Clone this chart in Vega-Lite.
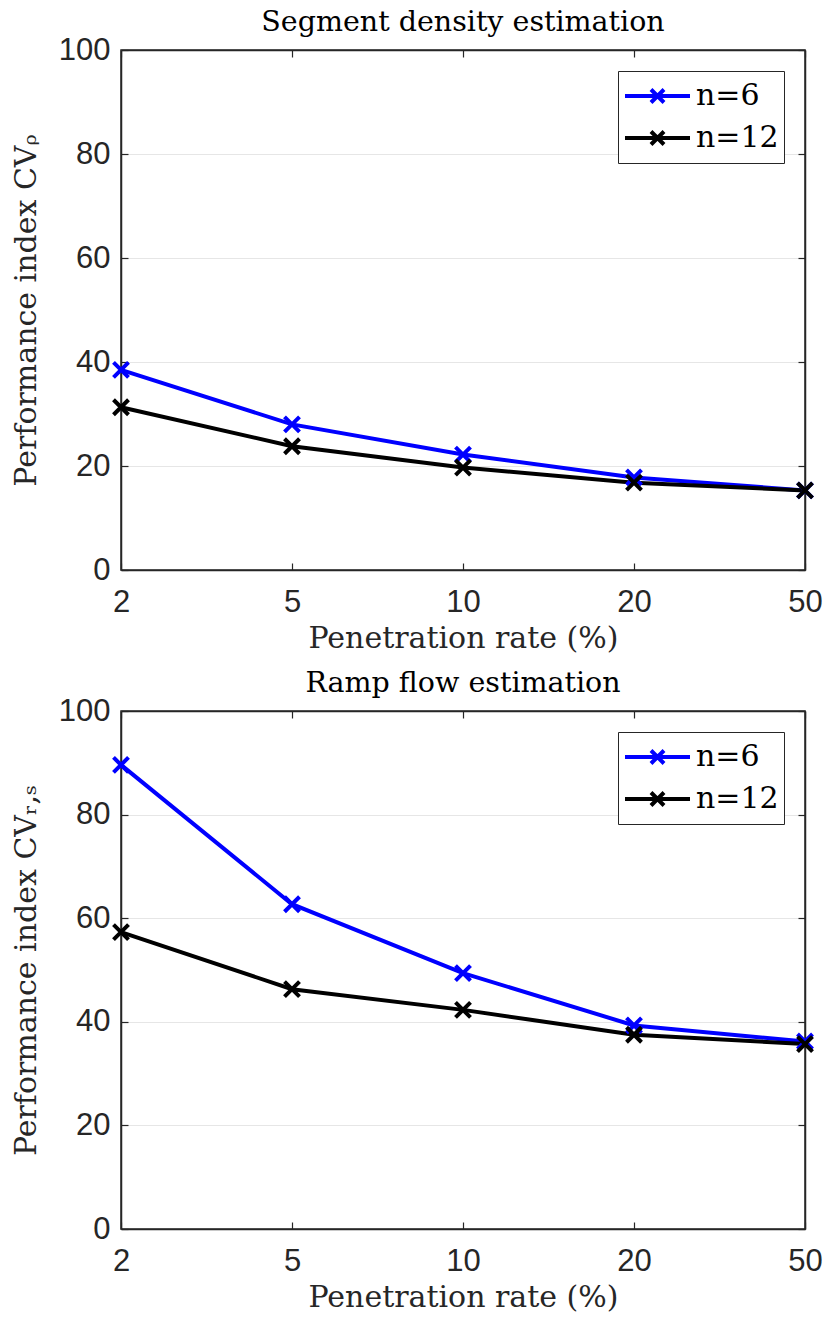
{
  "$schema": "https://vega.github.io/schema/vega-lite/v6.json",
  "background": "white",
  "padding": {"left": 10, "top": 6, "right": 4, "bottom": 4},
  "spacing": 13,
  "resolve": {"scale": {"color": "independent"}, "legend": {"color": "independent"}},
  "datasets": {
    "density": [
      {"rate": "2", "value": 38.5, "series": "n=6"},
      {"rate": "5", "value": 28.0, "series": "n=6"},
      {"rate": "10", "value": 22.2, "series": "n=6"},
      {"rate": "20", "value": 17.8, "series": "n=6"},
      {"rate": "50", "value": 15.3, "series": "n=6"},
      {"rate": "2", "value": 31.3, "series": "n=12"},
      {"rate": "5", "value": 23.8, "series": "n=12"},
      {"rate": "10", "value": 19.7, "series": "n=12"},
      {"rate": "20", "value": 16.8, "series": "n=12"},
      {"rate": "50", "value": 15.3, "series": "n=12"}
    ],
    "ramp": [
      {"rate": "2", "value": 89.6, "series": "n=6"},
      {"rate": "5", "value": 62.7, "series": "n=6"},
      {"rate": "10", "value": 49.4, "series": "n=6"},
      {"rate": "20", "value": 39.3, "series": "n=6"},
      {"rate": "50", "value": 36.2, "series": "n=6"},
      {"rate": "2", "value": 57.3, "series": "n=12"},
      {"rate": "5", "value": 46.3, "series": "n=12"},
      {"rate": "10", "value": 42.3, "series": "n=12"},
      {"rate": "20", "value": 37.5, "series": "n=12"},
      {"rate": "50", "value": 35.7, "series": "n=12"}
    ]
  },
  "config": {
    "view": {"stroke": "#262626", "strokeWidth": 1.5},
    "axis": {
      "labelFont": "Liberation Sans",
      "labelFontSize": 31,
      "labelColor": "#262626",
      "titleFont": "DejaVu Serif",
      "titleFontSize": 30,
      "titleFontWeight": "normal",
      "titleColor": "#262626",
      "gridColor": "#e6e6e6",
      "gridWidth": 1,
      "domainColor": "#262626",
      "domainWidth": 1.5,
      "tickColor": "#262626",
      "tickSize": -7,
      "tickWidth": 1.2
    },
    "title": {"font": "DejaVu Serif", "fontSize": 28.5, "fontWeight": "normal", "color": "#000000", "offset": -2},
    "legend": {
      "orient": "top-right",
      "offset": 21,
      "strokeColor": "#262626",
      "fillColor": "white",
      "padding": 5,
      "labelFont": "DejaVu Serif",
      "labelFontSize": 30,
      "labelColor": "#000000",
      "symbolType": "M-1,0L1,0M-0.2,-0.2L0.2,0.2M-0.2,0.2L0.2,-0.2",
      "symbolSize": 4225,
      "symbolStrokeWidth": 4,
      "clipHeight": 40,
      "labelOffset": 4
    }
  },
  "vconcat": [
    {
      "width": 684,
      "height": 520,
      "title": "Segment density estimation",
      "data": {"name": "density"},
      "resolve": {"axis": {"x": "independent", "y": "independent"}},
      "layer": [
        {
          "mark": {"type": "line", "strokeWidth": 4},
          "encoding": {
            "x": {"field": "rate", "type": "ordinal", "sort": ["2", "5", "10", "20", "50"], "scale": {"type": "point", "padding": 0}, "axis": {"labelAngle": 0, "title": "Penetration rate (%)", "labelPadding": 24, "titlePadding": 6}},
            "y": {"field": "value", "type": "quantitative", "scale": {"domain": [0, 100]}, "axis": {"values": [0, 20, 40, 60, 80, 100], "title": "Performance index CVᵨ", "labelPadding": 18, "titlePadding": 17}},
            "color": {"field": "series", "type": "nominal", "sort": ["n=6", "n=12"], "scale": {"domain": ["n=6", "n=12"], "range": ["#0000ff", "#000000"]}, "legend": {"title": null}}
          }
        },
        {
          "mark": {"type": "point", "shape": "M-1,-1L1,1M-1,1L1,-1", "filled": false, "strokeWidth": 4, "size": 225, "opacity": 1},
          "encoding": {
            "x": {"field": "rate", "type": "ordinal", "sort": ["2", "5", "10", "20", "50"], "axis": null},
            "y": {"field": "value", "type": "quantitative", "axis": null},
            "color": {"field": "series", "type": "nominal", "sort": ["n=6", "n=12"], "legend": null}
          }
        },
        {
          "mark": {"type": "point", "opacity": 0},
          "encoding": {
            "x": {"field": "rate", "type": "ordinal", "sort": ["2", "5", "10", "20", "50"], "axis": {"orient": "top", "labels": false, "title": null, "grid": false}},
            "y": {"field": "value", "type": "quantitative", "axis": {"orient": "right", "labels": false, "title": null, "grid": false, "values": [0, 20, 40, 60, 80, 100]}}
          }
        }
      ]
    },
    {
      "width": 684,
      "height": 518,
      "title": "Ramp flow estimation",
      "data": {"name": "ramp"},
      "resolve": {"axis": {"x": "independent", "y": "independent"}},
      "layer": [
        {
          "mark": {"type": "line", "strokeWidth": 4},
          "encoding": {
            "x": {"field": "rate", "type": "ordinal", "sort": ["2", "5", "10", "20", "50"], "scale": {"type": "point", "padding": 0}, "axis": {"labelAngle": 0, "title": "Penetration rate (%)", "labelPadding": 24, "titlePadding": 6}},
            "y": {"field": "value", "type": "quantitative", "scale": {"domain": [0, 100]}, "axis": {"values": [0, 20, 40, 60, 80, 100], "title": "Performance index CVᵣ,ₛ", "labelPadding": 18, "titlePadding": 17}},
            "color": {"field": "series", "type": "nominal", "sort": ["n=6", "n=12"], "scale": {"domain": ["n=6", "n=12"], "range": ["#0000ff", "#000000"]}, "legend": {"title": null}}
          }
        },
        {
          "mark": {"type": "point", "shape": "M-1,-1L1,1M-1,1L1,-1", "filled": false, "strokeWidth": 4, "size": 225, "opacity": 1},
          "encoding": {
            "x": {"field": "rate", "type": "ordinal", "sort": ["2", "5", "10", "20", "50"], "axis": null},
            "y": {"field": "value", "type": "quantitative", "axis": null},
            "color": {"field": "series", "type": "nominal", "sort": ["n=6", "n=12"], "legend": null}
          }
        },
        {
          "mark": {"type": "point", "opacity": 0},
          "encoding": {
            "x": {"field": "rate", "type": "ordinal", "sort": ["2", "5", "10", "20", "50"], "axis": {"orient": "top", "labels": false, "title": null, "grid": false}},
            "y": {"field": "value", "type": "quantitative", "axis": {"orient": "right", "labels": false, "title": null, "grid": false, "values": [0, 20, 40, 60, 80, 100]}}
          }
        }
      ]
    }
  ]
}
